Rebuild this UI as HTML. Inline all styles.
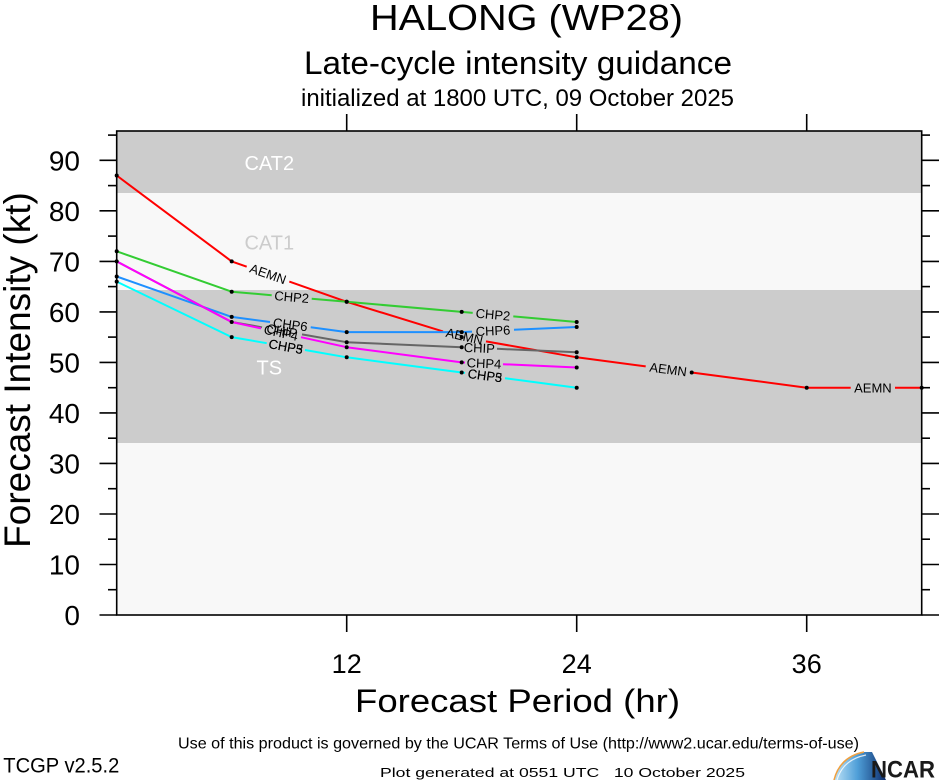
<!DOCTYPE html>
<html>
<head>
<meta charset="utf-8">
<style>
  html,body{margin:0;padding:0;background:#fff;}
  svg{display:block;}
  text{font-family:"Liberation Sans",Arial,Helvetica,sans-serif;}
</style>
</head>
<body>
<svg width="939" height="780" viewBox="0 0 939 780" xmlns="http://www.w3.org/2000/svg">
  <defs>
    <linearGradient id="lg" x1="0" y1="0" x2="1" y2="0">
      <stop offset="0" stop-color="#bfe3f7"/>
      <stop offset="0.45" stop-color="#4f9fd8"/>
      <stop offset="1" stop-color="#0d2d6e"/>
    </linearGradient>
  </defs>
  <rect x="0" y="0" width="939" height="780" fill="#ffffff"/>

  <!-- Titles -->
  <text x="526.5" y="30" font-size="36" text-anchor="middle" textLength="313" lengthAdjust="spacingAndGlyphs">HALONG (WP28)</text>
  <text x="518" y="74" font-size="32" text-anchor="middle" textLength="428" lengthAdjust="spacingAndGlyphs">Late-cycle intensity guidance</text>
  <text x="517.5" y="106" font-size="24" text-anchor="middle" textLength="433" lengthAdjust="spacingAndGlyphs">initialized at 1800 UTC, 09 October 2025</text>

  <!-- Plot background and bands -->
  <rect x="116.7" y="131" width="805" height="484" fill="#f8f8f8"/>
  <rect x="116.7" y="131" width="805" height="62" fill="#cccccc"/>
  <rect x="116.7" y="290" width="805" height="153" fill="#cccccc"/>

  <!-- Category labels -->
  <text x="269.3" y="170" font-size="20" fill="#ffffff" text-anchor="middle">CAT2</text>
  <text x="269.3" y="249.3" font-size="20" fill="#cccccc" text-anchor="middle">CAT1</text>
  <text x="269.3" y="374.3" font-size="20" fill="#ffffff" text-anchor="middle">TS</text>

  <!-- Series lines -->
  <g fill="none" stroke-width="2" stroke-linejoin="round">
    <path stroke="#ff0000" d="M116.7,175.5 L231.7,261.4 L246.7,266.7 M289.3,281.6 L346.7,301.8 L443,331.4 M486,341.4 L576.7,357.3 L645.7,366.4 M690.7,372.4 L691.7,372.5 L806.7,387.7 L850.7,387.7 M895,387.7 L921.7,387.7"/>
    <path stroke="#33cc33" d="M116.7,251.3 L231.7,291.7 L271.7,295.2 M311.7,298.7 L346.7,301.8 L461.7,311.9 L472.7,312.9 M513.3,316.4 L576.7,322.0"/>
    <path stroke="#1e90ff" d="M116.7,276.5 L231.7,316.9 L270,322.0 M310.7,327.3 L346.7,332.1 L461.7,332.1 L472,331.6 M514,329.8 L576.7,327.0"/>
    <path stroke="#666666" d="M116.7,261.4 L231.7,322.0 L262,327.3 M302,334.4 L346.7,342.2 L461.7,347.2 M497,348.8 L576.7,352.3"/>
    <path stroke="#ff00ff" d="M116.7,261.4 L231.7,322.0 L261,328.4 M301,337.2 L346.7,347.2 L461.7,362.4 L465,362.5 M503,364.2 L576.7,367.5"/>
    <path stroke="#00ffff" d="M116.7,281.6 L231.7,337.1 L266.7,343.2 M305,350.0 L346.7,357.3 L461.7,372.5 L465,372.9 M505,378.2 L576.7,387.7"/>
  </g>

  <!-- Points -->
  <g fill="#000000">
    <circle cx="116.7" cy="175.5" r="2"/><circle cx="231.7" cy="261.4" r="2"/><circle cx="346.7" cy="301.8" r="2"/><circle cx="461.7" cy="337.1" r="2"/><circle cx="576.7" cy="357.3" r="2"/><circle cx="691.7" cy="372.5" r="2"/><circle cx="806.7" cy="387.7" r="2"/><circle cx="921.7" cy="387.7" r="2"/>
    <circle cx="116.7" cy="251.3" r="2"/><circle cx="231.7" cy="291.7" r="2"/><circle cx="346.7" cy="301.8" r="2"/><circle cx="461.7" cy="311.9" r="2"/><circle cx="576.7" cy="322.0" r="2"/>
    <circle cx="116.7" cy="276.5" r="2"/><circle cx="231.7" cy="316.9" r="2"/><circle cx="346.7" cy="332.1" r="2"/><circle cx="461.7" cy="332.1" r="2"/><circle cx="576.7" cy="327.0" r="2"/>
    <circle cx="116.7" cy="261.4" r="2"/><circle cx="231.7" cy="322.0" r="2"/><circle cx="346.7" cy="342.2" r="2"/><circle cx="461.7" cy="347.2" r="2"/><circle cx="576.7" cy="352.3" r="2"/>
    <circle cx="346.7" cy="347.2" r="2"/><circle cx="461.7" cy="362.4" r="2"/><circle cx="576.7" cy="367.5" r="2"/>
    <circle cx="116.7" cy="281.6" r="2"/><circle cx="231.7" cy="337.1" r="2"/><circle cx="346.7" cy="357.3" r="2"/><circle cx="461.7" cy="372.5" r="2"/><circle cx="576.7" cy="387.7" r="2"/>
  </g>

  <!-- Line labels -->
  <g font-size="13" fill="#000000" text-anchor="middle">
    <text x="268" y="274" dy="0.35em" transform="rotate(19.4 268 274)">AEMN</text>
    <text x="464.5" y="336.4" dy="0.35em" transform="rotate(13 464.5 336.4)">AEMN</text>
    <text x="668.2" y="369.4" dy="0.35em" transform="rotate(7.5 668.2 369.4)">AEMN</text>
    <text x="872.9" y="387.7" dy="0.35em">AEMN</text>

    <text x="291.7" y="297" dy="0.35em" transform="rotate(5 291.7 297)">CHP2</text>
    <text x="493" y="314.6" dy="0.35em" transform="rotate(5 493 314.6)">CHP2</text>

    <text x="290.3" y="324.6" dy="0.35em" transform="rotate(7.5 290.3 324.6)">CHP6</text>
    <text x="493" y="330.7" dy="0.35em" transform="rotate(-2.5 493 330.7)">CHP6</text>

    <text x="282" y="330.9" dy="0.35em" transform="rotate(10 282 330.9)">CHIP</text>
    <text x="479.4" y="348" dy="0.35em" transform="rotate(2.5 479.4 348)">CHIP</text>

    <text x="281" y="332.8" dy="0.35em" transform="rotate(12.4 281 332.8)">CHP4</text>
    <text x="484" y="363.4" dy="0.35em" transform="rotate(2.5 484 363.4)">CHP4</text>

    <text x="285.9" y="346.6" dy="0.35em" transform="rotate(10 285.9 346.6)">CHP5</text>
    <text x="285.9" y="346.6" dy="0.35em" transform="rotate(10 285.9 346.6)">CHP3</text>
    <text x="485" y="375.6" dy="0.35em" transform="rotate(7.5 485 375.6)">CHP5</text>
    <text x="485" y="375.6" dy="0.35em" transform="rotate(7.5 485 375.6)">CHP3</text>
  </g>

  <!-- Frame -->
  <rect x="116.7" y="131" width="805" height="484" fill="none" stroke="#000" stroke-width="1.6"/>

  <!-- Y ticks -->
  <g stroke="#000" stroke-width="1.6">
    <line x1="99.5" y1="615" x2="116.7" y2="615"/><line x1="108" y1="589.7" x2="116.7" y2="589.7"/>
    <line x1="99.5" y1="564.5" x2="116.7" y2="564.5"/><line x1="108" y1="539.2" x2="116.7" y2="539.2"/>
    <line x1="99.5" y1="514" x2="116.7" y2="514"/><line x1="108" y1="488.7" x2="116.7" y2="488.7"/>
    <line x1="99.5" y1="463.4" x2="116.7" y2="463.4"/><line x1="108" y1="438.2" x2="116.7" y2="438.2"/>
    <line x1="99.5" y1="412.9" x2="116.7" y2="412.9"/><line x1="108" y1="387.7" x2="116.7" y2="387.7"/>
    <line x1="99.5" y1="362.4" x2="116.7" y2="362.4"/><line x1="108" y1="337.1" x2="116.7" y2="337.1"/>
    <line x1="99.5" y1="311.9" x2="116.7" y2="311.9"/><line x1="108" y1="286.6" x2="116.7" y2="286.6"/>
    <line x1="99.5" y1="261.4" x2="116.7" y2="261.4"/><line x1="108" y1="236.1" x2="116.7" y2="236.1"/>
    <line x1="99.5" y1="210.8" x2="116.7" y2="210.8"/><line x1="108" y1="185.6" x2="116.7" y2="185.6"/>
    <line x1="99.5" y1="160.3" x2="116.7" y2="160.3"/><line x1="108" y1="135.1" x2="116.7" y2="135.1"/>

    <line x1="921.7" y1="615" x2="939" y2="615"/><line x1="921.7" y1="589.7" x2="930" y2="589.7"/>
    <line x1="921.7" y1="564.5" x2="939" y2="564.5"/><line x1="921.7" y1="539.2" x2="930" y2="539.2"/>
    <line x1="921.7" y1="514" x2="939" y2="514"/><line x1="921.7" y1="488.7" x2="930" y2="488.7"/>
    <line x1="921.7" y1="463.4" x2="939" y2="463.4"/><line x1="921.7" y1="438.2" x2="930" y2="438.2"/>
    <line x1="921.7" y1="412.9" x2="939" y2="412.9"/><line x1="921.7" y1="387.7" x2="930" y2="387.7"/>
    <line x1="921.7" y1="362.4" x2="939" y2="362.4"/><line x1="921.7" y1="337.1" x2="930" y2="337.1"/>
    <line x1="921.7" y1="311.9" x2="939" y2="311.9"/><line x1="921.7" y1="286.6" x2="930" y2="286.6"/>
    <line x1="921.7" y1="261.4" x2="939" y2="261.4"/><line x1="921.7" y1="236.1" x2="930" y2="236.1"/>
    <line x1="921.7" y1="210.8" x2="939" y2="210.8"/><line x1="921.7" y1="185.6" x2="930" y2="185.6"/>
    <line x1="921.7" y1="160.3" x2="939" y2="160.3"/><line x1="921.7" y1="135.1" x2="930" y2="135.1"/>

    <!-- X ticks -->
    <line x1="346.7" y1="615" x2="346.7" y2="632"/><line x1="576.7" y1="615" x2="576.7" y2="632"/><line x1="806.7" y1="615" x2="806.7" y2="632"/>
    <line x1="346.7" y1="131" x2="346.7" y2="114"/><line x1="576.7" y1="131" x2="576.7" y2="114"/><line x1="806.7" y1="131" x2="806.7" y2="114"/>
  </g>

  <!-- Y tick labels -->
  <g font-size="28" text-anchor="end" fill="#000">
    <text x="80" y="615" dy="0.36em">0</text>
    <text x="80" y="564.5" dy="0.36em">10</text>
    <text x="80" y="514" dy="0.36em">20</text>
    <text x="80" y="463.4" dy="0.36em">30</text>
    <text x="80" y="412.9" dy="0.36em">40</text>
    <text x="80" y="362.4" dy="0.36em">50</text>
    <text x="80" y="311.9" dy="0.36em">60</text>
    <text x="80" y="261.4" dy="0.36em">70</text>
    <text x="80" y="210.8" dy="0.36em">80</text>
    <text x="80" y="160.3" dy="0.36em">90</text>
  </g>

  <!-- X tick labels -->
  <g font-size="27" text-anchor="middle" fill="#000">
    <text x="346.7" y="673">12</text>
    <text x="576.7" y="673">24</text>
    <text x="806.7" y="673">36</text>
  </g>

  <!-- Axis titles -->
  <text x="517.5" y="712" font-size="32" text-anchor="middle" textLength="325" lengthAdjust="spacingAndGlyphs">Forecast Period (hr)</text>
  <text x="0" y="0" font-size="37" text-anchor="middle" transform="translate(30 370) rotate(-90)">Forecast Intensity (kt)</text>

  <!-- Footer -->
  <text x="178" y="748.3" font-size="16" textLength="681" lengthAdjust="spacingAndGlyphs">Use of this product is governed by the UCAR Terms of Use (http://www2.ucar.edu/terms-of-use)</text>
  <text x="3.3" y="772.7" font-size="21" textLength="116" lengthAdjust="spacingAndGlyphs">TCGP v2.5.2</text>
  <text x="380" y="777" font-size="12.5" textLength="365" lengthAdjust="spacingAndGlyphs" xml:space="preserve" style="white-space:pre">Plot generated at 0551 UTC   10 October 2025</text>

  <!-- NCAR logo -->
  <path d="M834,780 C838,764 849,755 864,752 L872,752 L886,780 Z" fill="url(#lg)"/>
  <path d="M834,780 C838,764 849,755 864,752" fill="none" stroke="#f0a040" stroke-width="1.5"/>
  <path d="M837,780 C841,766 851,758 866,755" fill="none" stroke="#ffffff" stroke-width="1.2" opacity="0.8"/>
  <text x="871" y="777.5" font-size="24" font-weight="bold" fill="#1a1a1a" textLength="64" lengthAdjust="spacingAndGlyphs">NCAR</text>
</svg>
</body>
</html>
